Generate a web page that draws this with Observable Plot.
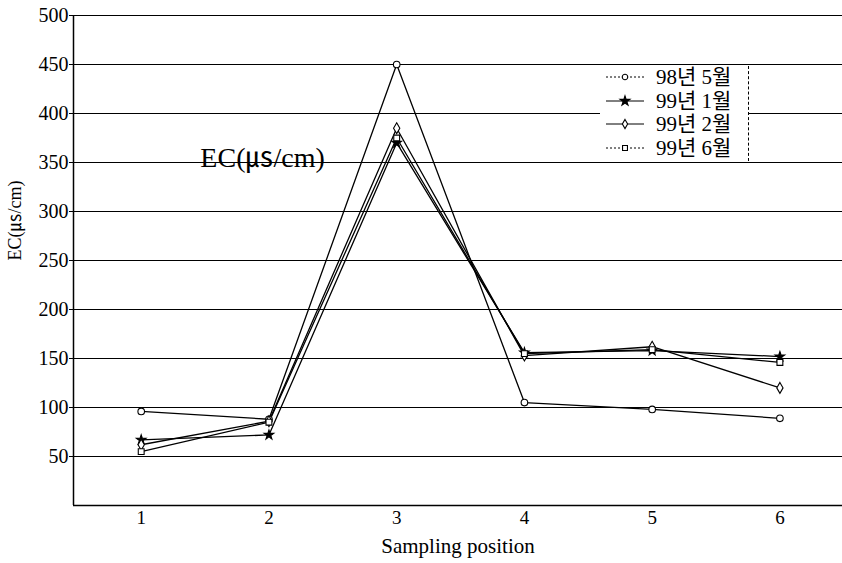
<!DOCTYPE html>
<html>
<head>
<meta charset="utf-8">
<script src="https://cdn.jsdelivr.net/npm/d3@7"></script>
<script src="https://cdn.jsdelivr.net/npm/@observablehq/plot@0.6"></script>
<style>
  html, body { margin: 0; padding: 0; background: #fff; }
  #wrap { position: relative; width: 842px; height: 563px; font-family: "Liberation Serif", "Noto Sans CJK KR", serif; }
  #legend { position: absolute; left: 600px; top: 66px; width: 148px; height: 95px; background: #fff; border-right: 1px dashed #000; }
  .row { position: absolute; left: 0; height: 22px; display: flex; align-items: center; }
  .row svg { display: block; }
  .row span { font-family: "Liberation Serif", "Noto Sans CJK KR", serif; font-size: 21px; line-height: 22px; height: 22px; letter-spacing: 0px; margin-left: 6px; color: #000; }
</style>
</head>
<body>
<div id="wrap"></div>
<script>
const positions = [1, 2, 3, 4, 5, 6];
const seriesNames = ["98년 5월", "99년 1월", "99년 2월", "99년 6월"];
const may98 = [96, 88, 450, 105, 98, 89];
const jan99 = [67, 72, 370, 156, 158, 152];
const feb99 = [62, 86, 385, 153, 162, 120];
const jun99 = [55, 85, 375, 155, 159, 146];
const yTicks = [50, 100, 150, 200, 250, 300, 350, 400, 450, 500];
const annotation = [{x: 1.95, y: 355, text: "EC(㎲/cm)"}];

const seriesValues = [may98, jan99, feb99, jun99];
const symbols = ["circle", "star", "diamond", "square"];
const fills = ["white", "black", "white", "white"];

const marks = [
  Plot.ruleY(yTicks, {stroke: "#000", strokeWidth: 1.2}),
  Plot.ruleY([0], {stroke: "#000", strokeWidth: 1.5}),
  Plot.ruleX([0.47], {stroke: "#000", strokeWidth: 1.5}),
  Plot.axisY({ticks: yTicks, tickSize: 4, tickPadding: 1, fontSize: 20, label: null}),
  Plot.axisX({ticks: positions, tickFormat: "d", tickSize: 0, tickPadding: 5, fontSize: 19, label: null}),
  Plot.text(["Sampling position"], {frameAnchor: "bottom", dy: 47, fontSize: 21, text: d => d}),
  Plot.text(["EC(㎲/cm)"], {frameAnchor: "left", dx: -58, rotate: -90, fontSize: 18, text: d => d}),
  Plot.text(annotation, {x: "x", y: "y", text: "text", fontSize: 28})
];

seriesValues.forEach((vals, i) => {
  const data = positions.map((p, j) => ({x: p, y: vals[j]}));
  marks.push(Plot.line(data, {x: "x", y: "y", stroke: "#000", strokeWidth: 1.3}));
});
seriesValues.forEach((vals, i) => {
  const data = positions.map((p, j) => ({x: p, y: vals[j]}));
  marks.push(Plot.dot(data, {x: "x", y: "y", symbol: symbols[i], r: symbols[i] === "star" ? 3 : 3.3, fill: fills[i], stroke: "#000", strokeWidth: 1.1}));
});

const chart = Plot.plot({
  width: 842,
  height: 563,
  marginLeft: 73,
  marginRight: 0,
  marginTop: 15,
  marginBottom: 58,
  style: {fontFamily: '"Liberation Serif", "Noto Sans CJK KR", serif', color: "#000", background: "#fff"},
  x: {domain: [0.47, 6.49]},
  y: {domain: [0, 500]},
  marks
});
const wrap = document.getElementById("wrap");
wrap.appendChild(chart);

// legend
const legend = document.createElement("div");
legend.id = "legend";
const rowTops = [0, 24, 47, 71];
const dashes = ["2,2", null, null, "2,2"];
seriesNames.forEach((name, i) => {
  const row = document.createElement("div");
  row.className = "row";
  row.style.top = rowTops[i] + "px";
  const svg = d3.create("svg").attr("width", 50).attr("height", 22);
  svg.append("line").attr("x1", 6).attr("x2", 44).attr("y1", 11).attr("y2", 11)
    .attr("stroke", "#000").attr("stroke-width", 1).attr("stroke-dasharray", dashes[i]);
  svg.append("path").attr("transform", "translate(25,11)")
    .attr("d", d3.symbol(i === 1 ? d3.symbolStar : i === 2 ? d3.symbolDiamond : i === 3 ? d3.symbolSquare : d3.symbolCircle, i === 1 ? 30 : 24)())
    .attr("fill", fills[i]).attr("stroke", "#000").attr("stroke-width", 1.1);
  row.appendChild(svg.node());
  const sp = document.createElement("span");
  sp.textContent = name;
  row.appendChild(sp);
  legend.appendChild(row);
});
wrap.appendChild(legend);
</script>
</body>
</html>
